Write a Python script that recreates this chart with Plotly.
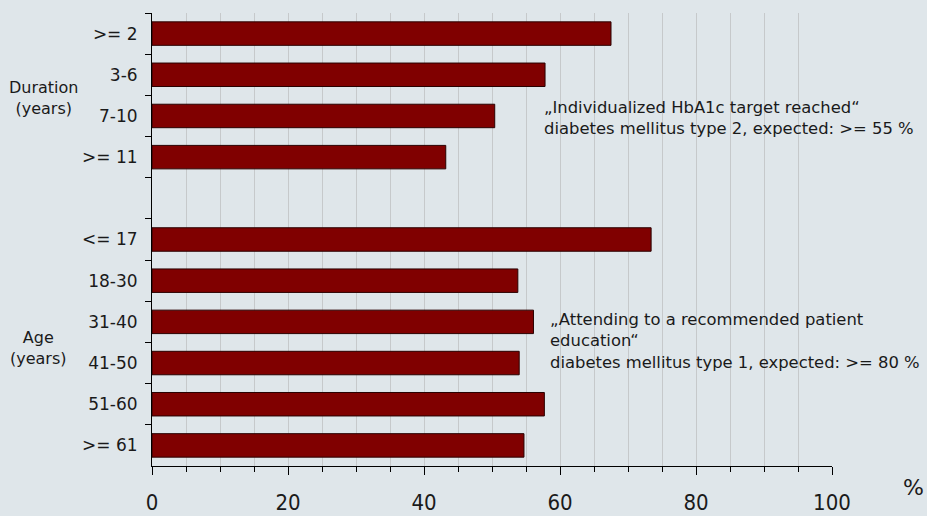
import plotly.graph_objects as go

# ---- data ----
duration_labels = [">= 2", "3-6", "7-10", ">= 11"]
duration_values = [67.5, 57.8, 50.4, 43.2]
age_labels = ["<= 17", "18-30", "31-40", "41-50", "51-60", ">= 61"]
age_values = [73.4, 53.8, 56.1, 54.0, 57.7, 54.7]
spacer_label = " "
x_tick_values = [0, 20, 40, 60, 80, 100]

categories = duration_labels + [spacer_label] + age_labels
values = duration_values + [None] + age_values

BG = "#dfe6ea"
GRID = "#c6c9cb"
TXT = "#1a1a1a"
FONT = "DejaVu Sans, Verdana, sans-serif"

fig = go.Figure(
    go.Bar(
        x=values,
        y=categories,
        orientation="h",
        marker=dict(color="#800000", line=dict(color="#2a0000", width=1)),
        hoverinfo="x+y",
    )
)

fig.update_layout(
    width=927,
    height=516,
    margin=dict(l=152, r=95, t=13, b=50),
    paper_bgcolor=BG,
    plot_bgcolor=BG,
    showlegend=False,
    bargap=0.43,
    font=dict(family=FONT, color=TXT, size=16),
)

fig.update_xaxes(
    range=[0, 100],
    tickvals=x_tick_values,
    ticks="outside",
    ticklen=8,
    tickcolor="black",
    tickwidth=1,
    showline=True,
    linecolor="black",
    linewidth=1,
    showgrid=True,
    gridcolor=GRID,
    gridwidth=1,
    zeroline=False,
    automargin=False,
    tickfont=dict(family="DejaVu Sans Condensed, DejaVu Sans, sans-serif", size=22, color=TXT),
    ticklabelstandoff=9,
    minor=dict(
        dtick=5,
        tick0=0,
        ticks="outside",
        ticklen=5,
        tickcolor="black",
        showgrid=True,
        gridcolor=GRID,
        gridwidth=1,
    ),
)

fig.update_yaxes(
    type="category",
    categoryorder="array",
    categoryarray=categories,
    autorange="reversed",
    tickson="boundaries",
    ticks="outside",
    ticklen=6,
    tickcolor="black",
    showline=True,
    linecolor="black",
    linewidth=1,
    showgrid=False,
    zeroline=False,
    automargin=False,
    tickfont=dict(family=FONT, size=17, color=TXT),
    ticklabelstandoff=10,
)

annotations = [
    dict(text="Duration<br>(years)", x=-0.159, y=0.812, xanchor="center", yanchor="middle",
         font=dict(size=16)),
    dict(text="Age<br>(years)", x=-0.167, y=0.2614, xanchor="center", yanchor="middle",
         font=dict(size=16)),
    dict(text="„Individualized HbA1c target reached“<br>diabetes mellitus type 2, expected: >= 55 %",
         x=0.5735, y=0.768, xanchor="left", yanchor="middle", align="left",
         font=dict(size=16.4)),
    dict(text="„Attending to a recommended patient<br>education“<br>diabetes mellitus type 1, expected: >= 80 %",
         x=0.583, y=0.2758, xanchor="left", yanchor="middle", align="left",
         font=dict(size=16.4)),
    dict(text="%", x=1.1196, y=-0.0485, xanchor="center", yanchor="middle",
         font=dict(size=22)),
]
for a in annotations:
    a.update(xref="paper", yref="paper", showarrow=False)
fig.update_layout(annotations=annotations)

fig.write_html("out.html")
